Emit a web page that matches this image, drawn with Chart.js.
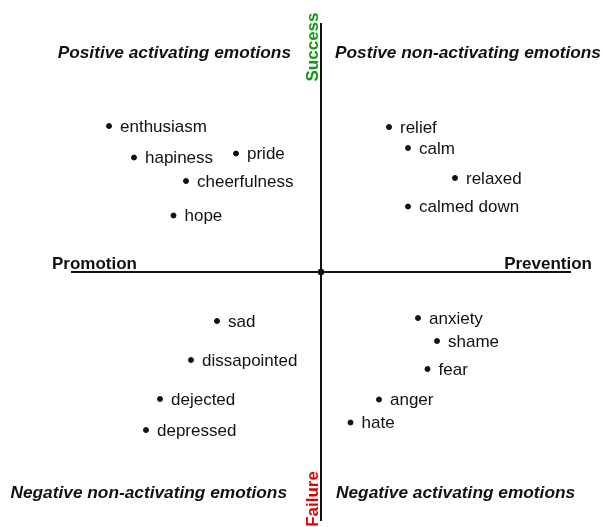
<!DOCTYPE html>
<html>
<head>
<meta charset="utf-8">
<script src="https://cdn.jsdelivr.net/npm/chart.js@4"></script>
<style>
  html, body { margin: 0; padding: 0; background: #fff; }
  #wrap { width: 602px; height: 527px; position: relative; }
</style>
</head>
<body>
<div id="wrap"><canvas id="chart"></canvas></div>
<script>
// emotions and their position (x: promotion <-> prevention, y: failure <-> success)
const emotions = ['enthusiasm', 'hapiness', 'pride', 'cheerfulness', 'hope',
    'relief', 'calm', 'relaxed', 'calmed down',
    'sad', 'dissapointed', 'dejected', 'depressed',
    'anxiety', 'shame', 'fear', 'anger', 'hate'];
const xValues = [-8.48, -7.48, -3.4, -5.4, -5.9,
    2.72, 3.48, 5.36, 3.48,
    -4.16, -5.2, -6.44, -7.0,
    3.88, 4.64, 4.26, 2.32, 1.18];
const yValues = [5.84, 4.58, 4.74, 3.64, 2.26,
    5.8, 4.96, 3.76, 2.62,
    -1.96, -3.52, -5.08, -6.32,
    -1.84, -2.76, -3.88, -5.1, -6.02];
const quadrantTitles = ['Positive activating emotions', 'Postive non-activating emotions',
    'Negative non-activating emotions', 'Negative activating emotions'];
const axisNames = ['Promotion', 'Prevention', 'Success', 'Failure'];

const points = emotions.map((e, i) => ({ x: xValues[i], y: yValues[i] }));

// axes through the origin, point labels, quadrant titles
const quadrantPlugin = {
    id: 'quadrants',
    afterDatasetsDraw(chart) {
        const ctx = chart.ctx;
        const area = chart.chartArea;
        const sx = chart.scales.x, sy = chart.scales.y;
        const cx = sx.getPixelForValue(0), cy = sy.getPixelForValue(0);
        ctx.save();

        ctx.strokeStyle = '#111';
        ctx.lineWidth = 2;
        ctx.beginPath();
        ctx.moveTo(area.left, cy);
        ctx.lineTo(area.right, cy);
        ctx.moveTo(cx, area.top + 1);
        ctx.lineTo(cx, area.bottom - 1);
        ctx.stroke();
        ctx.fillStyle = '#111';
        ctx.beginPath();
        ctx.arc(cx, cy, 3.2, 0, Math.PI * 2);
        ctx.fill();

        // point labels
        ctx.font = '17px "Liberation Sans", Arial, sans-serif';
        ctx.textAlign = 'left';
        ctx.textBaseline = 'middle';
        ctx.fillStyle = '#111';
        chart.getDatasetMeta(0).data.forEach((pt, i) => {
            ctx.fillText(emotions[i], pt.x + 11, pt.y + 1);
        });

        // quadrant titles
        ctx.font = 'italic bold 17.3px "Liberation Sans", Arial, sans-serif';
        ctx.textAlign = 'right';
        ctx.fillText(quadrantTitles[0], cx - 30, cy - 219);
        ctx.fillText(quadrantTitles[2], cx - 34, cy + 221);
        ctx.textAlign = 'left';
        ctx.fillText(quadrantTitles[1], cx + 14, cy - 219);
        ctx.fillText(quadrantTitles[3], cx + 15, cy + 221);

        // axis names
        ctx.font = 'bold 17px "Liberation Sans", Arial, sans-serif';
        ctx.textAlign = 'left';
        ctx.fillText(axisNames[0], 52, cy - 8);
        ctx.textAlign = 'right';
        ctx.fillText(axisNames[1], 592, cy - 8);

        ctx.textAlign = 'center';
        ctx.save();
        ctx.translate(cx - 8, area.top + 25);
        ctx.rotate(-Math.PI / 2);
        ctx.fillStyle = '#119a11';
        ctx.fillText(axisNames[2], 0, 0);
        ctx.restore();
        ctx.save();
        ctx.translate(cx - 8, area.bottom - 23);
        ctx.rotate(-Math.PI / 2);
        ctx.fillStyle = '#e00000';
        ctx.fillText(axisNames[3], 0, 0);
        ctx.restore();

        ctx.restore();
    }
};

new Chart(document.getElementById('chart'), {
    type: 'scatter',
    data: {
        datasets: [{
            data: points,
            backgroundColor: '#111',
            borderColor: '#111',
            pointRadius: 2.5,
            pointHoverRadius: 2.5
        }]
    },
    options: {
        responsive: true,
        maintainAspectRatio: false,
        animation: false,
        layout: { padding: { left: 71, right: 31, top: 22, bottom: 5 } },
        plugins: {
            legend: { display: false },
            tooltip: { enabled: false }
        },
        scales: {
            x: { type: 'linear', min: -10, max: 10, display: false },
            y: { type: 'linear', min: -10, max: 10, display: false }
        }
    },
    plugins: [quadrantPlugin]
});
</script>
</body>
</html>
